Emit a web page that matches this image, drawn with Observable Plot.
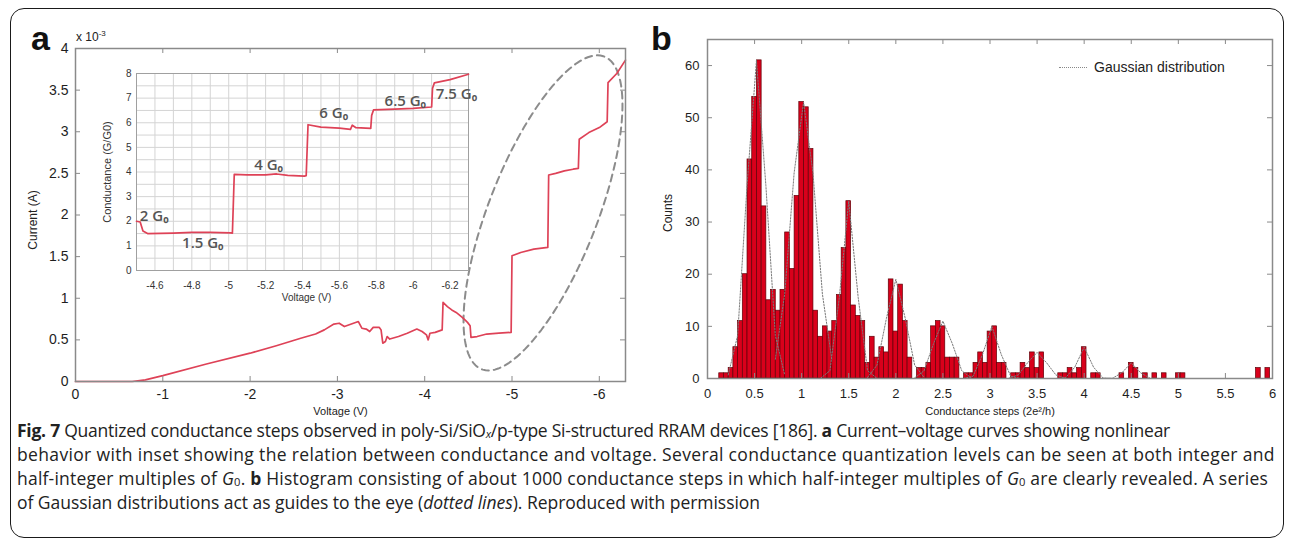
<!DOCTYPE html>
<html>
<head>
<meta charset="utf-8">
<script src="https://cdn.jsdelivr.net/npm/d3@7"></script>
<script src="https://cdn.jsdelivr.net/npm/@observablehq/plot@0.6"></script>
<style>
  html, body { margin: 0; padding: 0; background: #fff; }
  #fig { position: relative; width: 1293px; height: 544px; overflow: hidden; font-family: "Liberation Sans", Arial, sans-serif; color: #222; }
  #border { position: absolute; left: 10px; top: 8px; width: 1274px; height: 530px; border: 1.6px solid #1a1a1a; border-radius: 14px; box-sizing: border-box; }
  .panel { position: absolute; overflow: visible; }
  .letter { position: absolute; font-weight: bold; font-size: 34px; line-height: 34px; color: #111; }
  #unit { position: absolute; left: 76px; top: 31px; font-size: 12px; line-height: 12px; color: #222; }
  #unit sup { font-size: 8px; position: relative; top: -5px; vertical-align: baseline; }
  #legend { position: absolute; left: 1059px; top: 59px; font-size: 14px; line-height: 16px; color: #222; display: flex; align-items: center; }
  #legend .swatch { display: inline-block; width: 28px; border-top: 1.5px dotted #888; margin-right: 7px; }
  #caption { position: absolute; left: 17px; top: 418px; font-family: "Open Sans", sans-serif; font-size: 17.5px; line-height: 24.1px; color: #222; white-space: nowrap; }
  #caption .cl { display: block; width: max-content; }
  #caption sub { font-size: 0.64em; vertical-align: -0.12em; line-height: 0; }
</style>
</head>
<body>
<div id="fig">
  <div id="border"></div>
  <div class="letter" style="left:31px; top:21px;">a</div>
  <div class="letter" style="left:651px; top:21px;">b</div>
  <div id="unit">x 10<sup>-3</sup></div>
  <div id="legend"><span class="swatch"></span><span>Gaussian distribution</span></div>
  <div id="caption">
    <span class="cl" data-w="1153"><b>Fig. 7</b> Quantized conductance steps observed in poly-Si/SiO<sub><i>x</i></sub>/p-type Si-structured RRAM devices [186]. <b>a</b> Current–voltage curves showing nonlinear</span>
    <span class="cl" data-w="1258">behavior with inset showing the relation between conductance and voltage. Several conductance quantization levels can be seen at both integer and</span>
    <span class="cl" data-w="1251">half-integer multiples of <i>G</i><sub>0</sub>. <b>b</b> Histogram consisting of about 1000 conductance steps in which half-integer multiples of <i>G</i><sub>0</sub> are clearly revealed. A series</span>
    <span class="cl" data-w="743">of Gaussian distributions act as guides to the eye (<i>dotted lines</i>). Reproduced with permission</span>
  </div>
</div>
<script>
// ---------- Panel a: I–V sweep (current in units of 1e-3 A) ----------
const ivVoltage = [0, -0.3, -0.65, -0.8, -1.0, -1.5, -2.0, -2.3, -2.58, -2.75, -2.85, -2.96, -3.02, -3.08, -3.16, -3.24,
  -3.28, -3.33, -3.37, -3.41, -3.48, -3.50, -3.52, -3.55, -3.57, -3.6, -3.7, -3.8, -3.91, -3.97, -4.02, -4.04,
  -4.06, -4.12, -4.2, -4.21, -4.26, -4.31, -4.36, -4.43, -4.47, -4.49, -4.52, -4.53, -4.6, -4.71, -4.85, -4.99,
  -5.0, -5.1, -5.25, -5.41, -5.42, -5.5, -5.6, -5.7, -5.76, -5.77, -5.88, -6.0, -6.09, -6.1, -6.2, -6.3];
const ivCurrent = [0, 0, 0, 0.02, 0.07, 0.21, 0.34, 0.43, 0.52, 0.57, 0.62, 0.69, 0.70, 0.66, 0.69, 0.72,
  0.64, 0.63, 0.60, 0.65, 0.65, 0.62, 0.46, 0.48, 0.54, 0.51, 0.54, 0.58, 0.63, 0.60, 0.56, 0.50,
  0.58, 0.59, 0.62, 0.95, 0.90, 0.86, 0.83, 0.77, 0.73, 0.71, 0.67, 0.53, 0.54, 0.57, 0.58, 0.59,
  1.51, 1.55, 1.59, 1.61, 2.48, 2.50, 2.53, 2.55, 2.56, 2.91, 2.99, 3.05, 3.12, 3.59, 3.70, 3.86];
const ivVoltageTicks = [0, -1, -2, -3, -4, -5, -6];
const ivCurrentTicks = [0, 0.5, 1, 1.5, 2, 2.5, 3, 3.5, 4];

// Dashed ellipse highlighting the stepped region: centre and two conjugate semi-axes (V, mA)
const ellipseCenter = [-5.355, 2.025];
const ellipseAxisU = [-0.624, 1.893];
const ellipseAxisW = [-0.663, 0];

// ---------- Inset: conductance (in G0) vs voltage ----------
const gVoltage = [-4.5, -4.52, -4.535, -4.56, -4.7, -4.8, -4.9, -5.01, -5.02, -5.03, -5.1, -5.2, -5.26, -5.32, -5.41, -5.42,
  -5.43, -5.5, -5.6, -5.66, -5.67, -5.69, -5.77, -5.775, -5.785, -5.9, -6.0, -6.1, -6.105, -6.115, -6.2, -6.3];
const gConductance = [2.0, 1.97, 1.6, 1.5, 1.52, 1.55, 1.55, 1.53, 1.52, 3.9, 3.88, 3.88, 3.92, 3.86, 3.83, 3.85,
  5.92, 5.82, 5.78, 5.73, 5.9, 5.8, 5.77, 6.3, 6.52, 6.55, 6.58, 6.64, 7.4, 7.62, 7.75, 7.97];
const gVoltageTicks = [-4.6, -4.8, -5, -5.2, -5.4, -5.6, -5.8, -6, -6.2];
const gConductanceTicks = [0, 1, 2, 3, 4, 5, 6, 7, 8];
// Quantized level annotations: level (in G0) and where each label sits (V, G)
const levelNames = ["2", "1.5", "4", "6", "6.5", "7.5"];
const levelLabelV = [-4.518, -4.747, -5.138, -5.491, -5.845, -6.122];
const levelLabelG = [2.0, 0.93, 4.1, 6.18, 6.7, 6.95];

// ---------- Panel b: histogram of conductance steps (2e^2/h) ----------
const binStart = 0.125;
const binWidth = 0.05;
const binCounts = [1, 1, 2, 6, 11, 20, 42, 54, 61, 33, 15, 17, 13, 17, 28, 21, 35, 53, 52, 44,
  13, 8, 10, 9, 11, 16, 25, 34, 14, 12, 11, 3, 8, 4, 6, 5, 19, 9, 18, 11,
  4, 0, 2, 2, 3, 10, 11, 10, 4, 4, 4, 0, 1, 1, 3, 5, 3, 9, 10, 3,
  3, 0, 1, 1, 3, 2, 5, 2, 5, 0, 0, 0, 1, 1, 2, 1, 2, 6, 0, 1,
  1, 0, 0, 0, 0, 1, 0, 3, 2, 0, 1, 0, 1, 0, 1, 0, 0, 1, 1, 0,
  0, 0, 0, 0, 0, 0, 0, 0, 0, 0, 0, 0, 0, 0, 2, 0, 2];
const stepTicks = [0, 0.5, 1, 1.5, 2, 2.5, 3, 3.5, 4, 4.5, 5, 5.5, 6];
const countTicks = [0, 10, 20, 30, 40, 50, 60];
// Gaussian guide curves: centre, peak height, standard deviation
const gaussCenters = [0.52, 1.02, 1.5, 2.0, 2.5, 3.02, 3.5, 4.0, 4.5];
const gaussHeights = [61, 53, 34, 19, 11, 10, 5, 6, 3];
const gaussSigmas = [0.1, 0.13, 0.08, 0.1, 0.1, 0.08, 0.1, 0.07, 0.07];

// ---------- shared helpers ----------
const FONT = "Liberation Sans, Arial, sans-serif";
const fmt = d => String(d);

// inward tick marks on all four sides of a frame
function frameTicks(xs, ys, fw, fh, len, stroke) {
  return [
    Plot.tickX(xs, {x: d => d, insetTop: fh - len, stroke, strokeWidth: 1}),
    Plot.tickX(xs, {x: d => d, insetBottom: fh - len, stroke, strokeWidth: 1}),
    Plot.tickY(ys, {y: d => d, insetRight: fw - len, stroke, strokeWidth: 1}),
    Plot.tickY(ys, {y: d => d, insetLeft: fw - len, stroke, strokeWidth: 1})
  ];
}

const fig = document.getElementById("fig");
function place(svg, left, top) {
  svg.classList.add("panel");
  svg.style.left = left + "px";
  svg.style.top = top + "px";
  svg.style.background = "transparent";
  fig.appendChild(svg);
}

// caption: nudge letter spacing so each line spans its measure
document.querySelectorAll("#caption .cl").forEach(line => {
  const target = +line.dataset.w;
  const w = line.getBoundingClientRect().width;
  const n = line.textContent.length;
  line.style.letterSpacing = ((target - w) / n).toFixed(3) + "px";
});

// ---------- Panel a ----------
{
  const W = 640, H = 420, m = {top: 48, right: 15, bottom: 39, left: 75};
  const fw = W - m.left - m.right, fh = H - m.top - m.bottom;
  const iv = ivVoltage.map((v, i) => ({v, i: ivCurrent[i]}));
  const ellipse = d3.range(0, 361, 3).map(deg => {
    const t = deg * Math.PI / 180;
    return {
      v: ellipseCenter[0] + ellipseAxisU[0] * Math.cos(t) + ellipseAxisW[0] * Math.sin(t),
      i: ellipseCenter[1] + ellipseAxisU[1] * Math.cos(t) + ellipseAxisW[1] * Math.sin(t)
    };
  });
  const svg = Plot.plot({
    width: W, height: H,
    marginTop: m.top, marginRight: m.right, marginBottom: m.bottom, marginLeft: m.left,
    style: {fontFamily: FONT, background: "transparent", overflow: "visible"},
    x: {domain: [0, -6.3], axis: null},
    y: {domain: [0, 4], axis: null},
    marks: [
      Plot.line(ellipse, {x: "v", y: "i", stroke: "#8c8c8c", strokeWidth: 2, strokeDasharray: "7,5"}),
      Plot.line(iv, {x: "v", y: "i", stroke: "#de4257", strokeWidth: 1.7}),
      Plot.frame({stroke: "#8a8a8a", strokeWidth: 1.5}),
      ...frameTicks(ivVoltageTicks, ivCurrentTicks, fw, fh, 5, "#8a8a8a"),
      Plot.text(ivVoltageTicks, {x: d => d, text: fmt, frameAnchor: "bottom", textAnchor: "middle", lineAnchor: "middle", dy: 13, fontSize: 14, fill: "#1e1e1e"}),
      Plot.text(ivCurrentTicks, {y: d => d, text: fmt, frameAnchor: "left", textAnchor: "end", lineAnchor: "middle", dx: -7, fontSize: 14, fill: "#1e1e1e"}),
      Plot.text(["Voltage (V)"], {frameAnchor: "bottom", textAnchor: "middle", lineAnchor: "middle", dx: -10, dy: 30, fontSize: 11, fill: "#222"}),
      Plot.text(["Current (A)"], {frameAnchor: "left", textAnchor: "middle", lineAnchor: "middle", rotate: -90, dx: -42, dy: 5, fontSize: 12, fill: "#222"})
    ]
  });
  place(svg, 0, 0);
}

// ---------- Inset ----------
{
  const W = 380, H = 245, m = {top: 13, right: 7, bottom: 35, left: 41};
  const g = gVoltage.map((v, i) => ({v, g: gConductance[i]}));
  const gridV = d3.range(45, 64).map(d => -d / 10);
  const gridG = d3.range(0, 17).map(d => d / 2);
  const labels = levelNames.map((n, i) => ({text: `${n} G\u2080`, v: levelLabelV[i], g: levelLabelG[i]}));
  const svg = Plot.plot({
    width: W, height: H,
    marginTop: m.top, marginRight: m.right, marginBottom: m.bottom, marginLeft: m.left,
    style: {fontFamily: FONT, background: "transparent", overflow: "visible"},
    x: {domain: [-4.5, -6.3], axis: null},
    y: {domain: [0, 8], axis: null},
    marks: [
      Plot.ruleX(gridV, {x: d => d, stroke: "#d4d4d4", strokeWidth: 1}),
      Plot.ruleY(gridG, {y: d => d, stroke: "#d4d4d4", strokeWidth: 1}),
      Plot.frame({stroke: "#a0a0a0", strokeWidth: 1}),
      Plot.line(g, {x: "v", y: "g", stroke: "#de4257", strokeWidth: 1.7}),
      Plot.text(labels, {x: "v", y: "g", text: "text", textAnchor: "start", lineAnchor: "bottom", fontFamily: "Open Sans, sans-serif", fontSize: 15, fontWeight: 600, fill: "#555"}),
      Plot.text(gVoltageTicks, {x: d => d, text: fmt, frameAnchor: "bottom", textAnchor: "middle", lineAnchor: "middle", dy: 15, fontSize: 10, fill: "#333"}),
      Plot.text(gConductanceTicks, {y: d => d, text: fmt, frameAnchor: "left", textAnchor: "end", lineAnchor: "middle", dx: -5, fontSize: 10, fill: "#333"}),
      Plot.text(["Voltage (V)"], {frameAnchor: "bottom", textAnchor: "middle", lineAnchor: "middle", dx: 4, dy: 27, fontSize: 10, fill: "#333"}),
      Plot.text(["Conductance (G/G0)"], {frameAnchor: "left", textAnchor: "middle", lineAnchor: "middle", rotate: -90, dx: -29, fontSize: 11, fill: "#333"})
    ]
  });
  place(svg, 95, 60);
}

// ---------- Panel b ----------
{
  const W = 653, H = 420, m = {top: 39, right: 21, bottom: 42, left: 67};
  const fw = W - m.left - m.right, fh = H - m.top - m.bottom;
  const bins = binCounts.map((c, k) => ({x1: binStart + k * binWidth, x2: binStart + (k + 1) * binWidth, count: c}))
    .filter(d => d.count > 0);
  const guides = gaussCenters.flatMap((c, p) =>
    d3.range(-3, 4).map(k => {
      const x = c + k * 0.1;
      return {peak: p, x, y: gaussHeights[p] * Math.exp(-0.5 * ((x - c) / gaussSigmas[p]) ** 2)};
    }));
  const svg = Plot.plot({
    width: W, height: H,
    marginTop: m.top, marginRight: m.right, marginBottom: m.bottom, marginLeft: m.left,
    style: {fontFamily: FONT, background: "transparent", overflow: "visible"},
    x: {domain: [0, 6], axis: null},
    y: {domain: [0, 65], axis: null},
    marks: [
      Plot.rect(bins, {x1: "x1", x2: "x2", y1: 0, y2: "count", fill: "#d9001b", stroke: "#5e0008", strokeWidth: 0.7}),
      Plot.line(guides, {x: "x", y: "y", z: "peak", stroke: "#7a7a7a", strokeWidth: 1, strokeDasharray: "1.5,1.5"}),
      Plot.frame({stroke: "#8a8a8a", strokeWidth: 1.5}),
      ...frameTicks(stepTicks, countTicks, fw, fh, 5, "#8a8a8a"),
      Plot.text(stepTicks, {x: d => d, text: fmt, frameAnchor: "bottom", textAnchor: "middle", lineAnchor: "middle", dy: 15, fontSize: 13, fill: "#1e1e1e"}),
      Plot.text(countTicks, {y: d => d, text: fmt, frameAnchor: "left", textAnchor: "end", lineAnchor: "middle", dx: -8, fontSize: 13, fill: "#1e1e1e"}),
      Plot.text(["Conductance steps (2e\u00b2/h)"], {frameAnchor: "bottom", textAnchor: "middle", lineAnchor: "middle", dy: 33, fontSize: 11, fill: "#222"}),
      Plot.text(["Counts"], {frameAnchor: "left", textAnchor: "middle", lineAnchor: "middle", rotate: -90, dx: -39, dy: 4, fontSize: 12, fill: "#222"})
    ]
  });
  place(svg, 640, 0);
}
</script>
</body>
</html>
